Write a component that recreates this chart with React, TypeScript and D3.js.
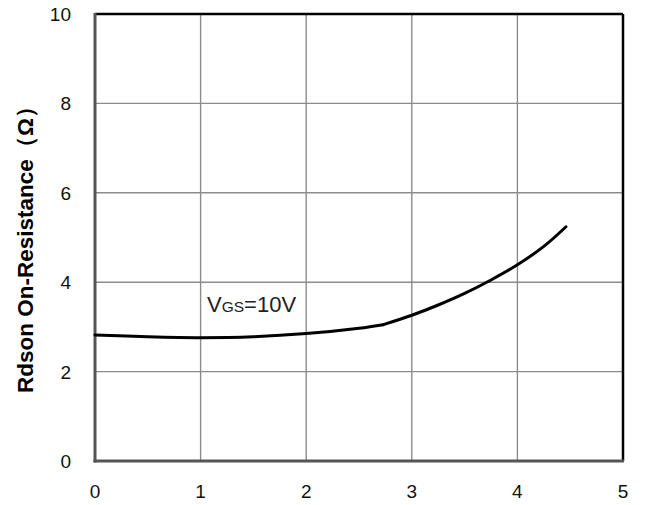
import React from "react";
import * as d3 from "d3";

const xTicks = [0, 1, 2, 3, 4, 5];
const yTicks = [0, 2, 4, 6, 8, 10];
// curve before the knee at 2.73 V and after it
const vdsLow = [0, 0.5, 1, 1.5, 2, 2.5, 2.73];
const rdsonLow = [2.82, 2.78, 2.76, 2.78, 2.85, 2.97, 3.05];
const vdsHigh = [2.73, 3, 3.25, 3.5, 3.75, 4, 4.25, 4.46];
const rdsonHigh = [3.05, 3.26, 3.49, 3.75, 4.05, 4.39, 4.8, 5.24];
const yTitle = "Rdson On-Resistance（Ω）";

const W = 645;
const H = 505;
const L = 95;
const R = 623;
const T = 14;
const B = 461;

export default function App() {
  const x = d3.scaleLinear().domain([0, 5]).range([L, R]);
  const y = d3.scaleLinear().domain([0, 10]).range([B, T]);
  const line = d3
    .line<[number, number]>()
    .x((d) => x(d[0]))
    .y((d) => y(d[1]))
    .curve(d3.curveCatmullRom.alpha(0.5));
  const lowPts = vdsLow.map((v, i) => [v, rdsonLow[i]] as [number, number]);
  const highPts = vdsHigh.map((v, i) => [v, rdsonHigh[i]] as [number, number]);
  const font = "'Liberation Sans', Arial, sans-serif";
  return (
    <svg
      width={W}
      height={H}
      style={{ position: "absolute", left: 0, top: 0, background: "#fff" }}
    >
      {xTicks.slice(1, -1).map((t) => (
        <line key={"vx" + t} x1={x(t)} x2={x(t)} y1={T} y2={B} stroke="#8c8c8c" strokeWidth={1.4} />
      ))}
      {yTicks.slice(1, -1).map((t) => (
        <line key={"hy" + t} x1={L} x2={R} y1={y(t)} y2={y(t)} stroke="#8c8c8c" strokeWidth={1.4} />
      ))}
      <line x1={L} x2={R} y1={T} y2={T} stroke="#000" strokeWidth={2.5} />
      <line x1={R} x2={R} y1={T} y2={B} stroke="#000" strokeWidth={2.5} />
      <line x1={L} x2={L} y1={T - 1} y2={B + 1.5} stroke="#555" strokeWidth={3} />
      <line x1={L - 1.5} x2={R + 1} y1={B} y2={B} stroke="#555" strokeWidth={3} />
      <path d={line(lowPts) || ""} fill="none" stroke="#000" strokeWidth={3} strokeLinejoin="round" strokeLinecap="round" />
      <path d={line(highPts) || ""} fill="none" stroke="#000" strokeWidth={3} strokeLinejoin="round" strokeLinecap="round" />
      {yTicks.map((t) => (
        <text key={"yl" + t} x={71} y={y(t) + 7} textAnchor="end" fontFamily={font} fontSize={19} fill="#111">
          {t}
        </text>
      ))}
      {xTicks.map((t) => (
        <text key={"xl" + t} x={x(t)} y={498} textAnchor="middle" fontFamily={font} fontSize={19} fill="#111">
          {t}
        </text>
      ))}
      <text
        transform={`translate(33, 244) rotate(-90)`}
        textAnchor="middle"
        fontFamily={font}
        fontSize={22.5}
        fontWeight="bold"
        fill="#000"
      >
        {yTitle}
      </text>
      <text x={207} y={312} fontFamily={font} fontSize={22} fill="#222">
        V<tspan fontSize={15.5}>GS</tspan>=10V
      </text>
    </svg>
  );
}
